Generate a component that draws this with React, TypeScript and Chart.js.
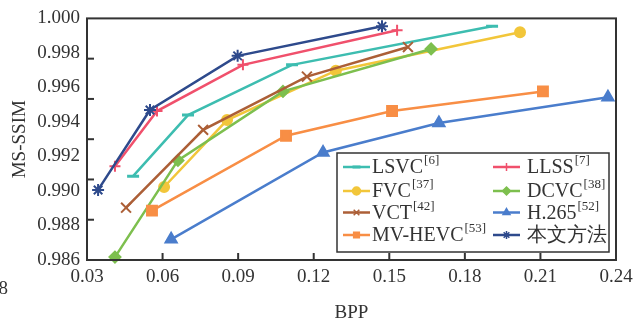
import React, { useEffect, useRef } from 'react';
import { Chart, registerables } from 'chart.js';
import { drawPoint } from 'chart.js/helpers';

Chart.register(...registerables);

// ---- data ----
const seriesNames = ['LSVC', 'LLSS', 'FVC', 'DCVC', 'VCT', 'H.265', 'MV-HEVC', '本文方法'];
const seriesRefs = ['[6]', '[7]', '[37]', '[38]', '[42]', '[52]', '[53]', ''];

const lsvcX = [0.0483, 0.0701, 0.1114, 0.1908];
const lsvcY = [0.99086, 0.9944, 0.99731, 0.99954];
const llssX = [0.0411, 0.0578, 0.0919, 0.1531];
const llssY = [0.99143, 0.99463, 0.99731, 0.99931];
const fvcX = [0.0606, 0.0856, 0.1288, 0.2019];
const fvcY = [0.99023, 0.99411, 0.99697, 0.9992];
const dcvcX = [0.0411, 0.0661, 0.1078, 0.1666];
const dcvcY = [0.98617, 0.99177, 0.99577, 0.99823];
const vctX = [0.0455, 0.0761, 0.1173, 0.1574];
const vctY = [0.98903, 0.99354, 0.99663, 0.99834];
const h265X = [0.0634, 0.1237, 0.1697, 0.2368];
const h265Y = [0.9872, 0.99223, 0.99394, 0.99543];
const mvhevcX = [0.0558, 0.109, 0.1511, 0.211];
const mvhevcY = [0.98886, 0.9932, 0.99463, 0.99577];
const oursX = [0.0344, 0.055, 0.0898, 0.1471];
const oursY = [0.99006, 0.99469, 0.99783, 0.99954];

const seriesX = [lsvcX, llssX, fvcX, dcvcX, vctX, h265X, mvhevcX, oursX];
const seriesY = [lsvcY, llssY, fvcY, dcvcY, vctY, h265Y, mvhevcY, oursY];

const xTicksMin = 0.03;
const xTicksMax = 0.24;
const xStep = 0.03;
const yTicksMin = 0.986;
const yTicksMax = 1.0;
const yStep = 0.002;

// ---- styles ----
const colors = ['#3dbdb0', '#f0506c', '#f2c63a', '#7dbf4e', '#ac5f37', '#4a7dcc', '#f88e45', '#2e4a8c'];
const pointStyles = ['line', 'cross', 'circle', 'rectRot', 'crossRot', 'triangle', 'rect', 'star'];
const pointRadii = [6, 5.5, 5, 5.5, 7, 6.5, 7, 6];
const filled = [false, false, true, true, false, true, true, false];

const FONT = "'Liberation Serif', 'Times New Roman', serif";
const TEXT = '#333333';

const decor = {
  id: 'decor',
  afterDatasetsDraw(chart: any) {
    const { ctx, chartArea } = chart;
    const { left, right, top, bottom } = chartArea;
    ctx.save();
    // frame
    ctx.strokeStyle = '#333';
    ctx.lineWidth = 2;
    ctx.strokeRect(left, top, right - left, bottom - top);
    // x inner ticks
    const xs = chart.scales.x;
    ctx.lineWidth = 2;
    xs.ticks.forEach((t: any, i: number) => {
      if (i < 1 || i >= xs.ticks.length - 1) return;
      const px = xs.getPixelForValue(t.value);
      ctx.beginPath();
      ctx.moveTo(px, bottom);
      ctx.lineTo(px, bottom - 7);
      ctx.stroke();
    });
    // y inner ticks (6 intervals in original figure)
    for (let k = 1; k < 6; k++) {
      const py = top + ((bottom - top) * k) / 6;
      ctx.beginPath();
      ctx.moveTo(left, py);
      ctx.lineTo(left + 7, py);
      ctx.stroke();
    }
    // legend
    const lw = 272;
    const lh = 99;
    const lx = right - 7 - lw;
    const ly = bottom - 8 - lh;
    ctx.fillStyle = '#fff';
    ctx.fillRect(lx, ly, lw, lh);
    ctx.strokeStyle = '#333';
    ctx.lineWidth = 1.5;
    ctx.strokeRect(lx, ly, lw, lh);
    const rowY = [14, 38, 59.5, 82];
    const colX = [6, 156];
    const textGap = [29, 34];
    seriesNames.forEach((name, i) => {
      const col = i % 2;
      const row = Math.floor(i / 2);
      const sx = lx + colX[col];
      const sy = ly + rowY[row];
      ctx.strokeStyle = colors[i];
      ctx.lineWidth = 2.5;
      ctx.beginPath();
      ctx.moveTo(sx, sy);
      ctx.lineTo(sx + 27, sy);
      ctx.stroke();
      ctx.fillStyle = colors[i];
      ctx.strokeStyle = colors[i];
      ctx.lineWidth = pointStyles[i] === 'line' ? 3 : 1.5;
      drawPoint(ctx, { pointStyle: pointStyles[i], radius: 4, rotation: 0, borderWidth: 1.5 } as any, sx + 13.5, sy);
      ctx.fillStyle = TEXT;
      ctx.font = `20px ${FONT}`;
      ctx.textBaseline = 'middle';
      ctx.textAlign = 'left';
      const tx = sx + textGap[col];
      ctx.fillText(name, tx, sy + 1);
      const w = ctx.measureText(name).width;
      if (seriesRefs[i]) {
        ctx.font = `13px ${FONT}`;
        ctx.fillText(seriesRefs[i], tx + w + 1, sy - 6);
      }
    });
    ctx.restore();
  },
  afterDraw(chart: any) {
    const { ctx } = chart;
    ctx.save();
    ctx.fillStyle = TEXT;
    ctx.font = `19px ${FONT}`;
    ctx.textAlign = 'right';
    ctx.textBaseline = 'middle';
    ctx.fillText('8', 8, 289);
    ctx.restore();
  },
};

export default function App() {
  const ref = useRef<HTMLCanvasElement | null>(null);
  useEffect(() => {
    if (!ref.current) return;
    const datasets = seriesNames.map((name, i) => ({
      label: name + seriesRefs[i],
      data: seriesX[i].map((x, j) => ({ x, y: seriesY[i][j] })),
      borderColor: colors[i],
      backgroundColor: colors[i],
      pointBackgroundColor: filled[i] ? colors[i] : 'rgba(0,0,0,0)',
      pointBorderColor: colors[i],
      pointStyle: pointStyles[i] as any,
      pointRadius: pointRadii[i],
      pointBorderWidth: pointStyles[i] === 'line' ? 3 : 2,
      borderWidth: 2.5,
      showLine: true,
      tension: 0,
      clip: 10,
      order: seriesNames.length - i,
    }));
    const chart = new Chart(ref.current, {
      type: 'scatter',
      data: { datasets },
      options: {
        animation: false,
        responsive: false,
        layout: { padding: { top: 15, right: 27, left: 0, bottom: 0 } },
        plugins: { legend: { display: false }, tooltip: { enabled: false } },
        scales: {
          x: {
            type: 'linear',
            min: xTicksMin,
            max: xTicksMax,
            grid: { display: false, drawTicks: false },
            border: { display: false },
            ticks: {
              stepSize: xStep,
              padding: 6,
              color: TEXT,
              font: { family: FONT, size: 19 },
              callback: (v: any) => Number(v).toFixed(2),
            },
            title: {
              display: true,
              text: 'BPP',
              color: TEXT,
              font: { family: FONT, size: 19 },
              padding: { top: 0, bottom: 4 },
            },
            afterFit: (s: any) => {
              s.height = 68;
            },
          },
          y: {
            type: 'linear',
            min: yTicksMin,
            max: yTicksMax,
            grid: { display: false, drawTicks: false },
            border: { display: false },
            ticks: {
              stepSize: yStep,
              padding: 7,
              color: TEXT,
              font: { family: FONT, size: 19 },
              callback: (v: any) => Number(v).toFixed(3),
            },
            title: {
              display: true,
              text: 'MS-SSIM',
              color: TEXT,
              font: { family: FONT, size: 19 },
              padding: { top: 9, bottom: 0 },
            },
            afterFit: (s: any) => {
              s.width = 87;
            },
          },
        },
      },
      plugins: [decor],
    });
    return () => chart.destroy();
  }, []);
  return (
    <div style={{ position: 'absolute', left: 0, top: 0, width: 643, height: 328, background: '#fff' }}>
      <canvas ref={ref} width={643} height={328} />
    </div>
  );
}
